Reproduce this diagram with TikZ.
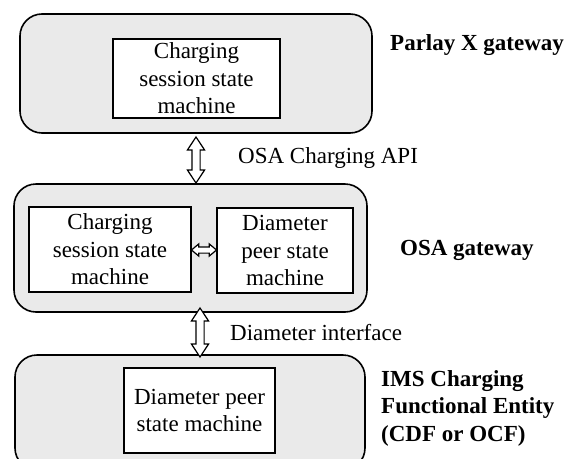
\documentclass[tikz,border=0pt]{standalone}
\usepackage{fontspec}
\setmainfont{Liberation Serif}
\usetikzlibrary{shapes.arrows}
\definecolor{boxgray}{HTML}{EAEAEA}
\begin{document}
\begin{tikzpicture}[x=1pt,y=-1pt,
  every node/.style={font=\fontsize{23}{27.5}\selectfont},
  gateway/.style={draw, line width=1.6pt, fill=boxgray, rounded corners=22pt,
    inner sep=0pt},
  machine/.style={draw, line width=1.4pt, fill=white, align=center,
    inner sep=0pt},
  label/.style={anchor=west, inner sep=0pt, align=left},
  tag/.style={anchor=west, inner sep=0pt, align=left,
    font=\fontsize{23}{27.5}\selectfont\bfseries},
  link/.style={draw, line width=1.2pt, fill=white, double arrow,
    inner xsep=0pt, inner ysep=#1, double arrow head extend=4.5pt,
    double arrow tip angle=67},
  link/.default=3.5pt]
\clip (0,0) rectangle (572,458);

% Parlay X gateway
\node[gateway, minimum width=352pt, minimum height=119pt] (parlay) at (196,73.5) {};
\node[machine, minimum width=167pt, minimum height=79pt] (parlaycs) at (196.5,78.5)
  {Charging\\session state\\machine};
\node[tag] (parlaytag) at (390,45) {Parlay X gateway};

% OSA gateway
\node[gateway, minimum width=353pt, minimum height=128pt] (osa) at (190.5,248) {};
\node[machine, minimum width=162pt, minimum height=85pt] (osacs) at (110,249.5)
  {Charging\\session state\\machine};
\node[machine, minimum width=136pt, minimum height=85pt] (osadp) at (285,250.5)
  {Diameter\\peer state\\machine};
\node[tag] (osatag) at (400,250) {OSA gateway};

% IMS charging functional entity
\node[gateway, minimum width=350pt, minimum height=115pt] (ims) at (190,412.5) {};
\node[machine, minimum width=151pt, minimum height=85pt] (imsdp) at (199.5,410.5)
  {Diameter peer\\state machine};
\node[tag] (imstag) at (381,408) {IMS Charging\\Functional Entity\\(CDF or OCF)};

% interfaces between the entities
\node[link, rotate=90, minimum height=46pt] (osaapi) at (196,160) {};
\node[label] (osaapilabel) at (238,158) {OSA Charging API};
\node[link, rotate=90, minimum height=49pt] (diam) at (200,332.5) {};
\node[label] (diamlabel) at (230,333) {Diameter interface};
\node[link=2.5pt, minimum height=25pt, double arrow head extend=3pt,
  double arrow tip angle=80, line width=1.2pt] (internal) at (204,250) {};
\end{tikzpicture}
\end{document}
